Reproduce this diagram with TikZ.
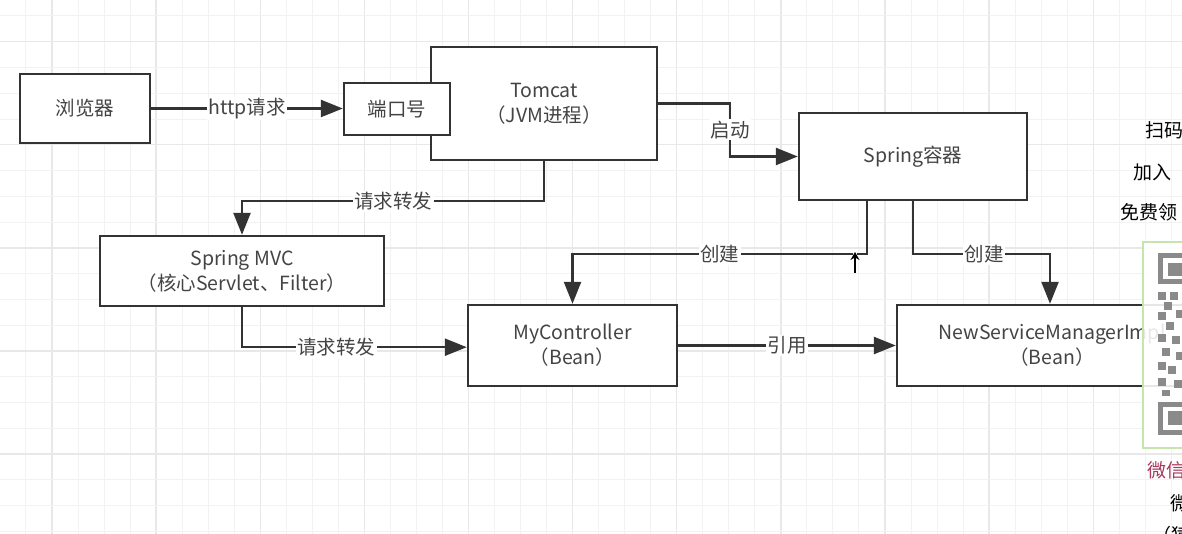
\documentclass[tikz,border=0pt]{standalone}
\usepackage{fontspec}
\setmainfont{Noto Sans CJK SC}
\usetikzlibrary{arrows.meta,calc}
\definecolor{ink}{HTML}{333333}
\definecolor{txt}{HTML}{444444}
\definecolor{gridminor}{HTML}{F2F2F2}
\definecolor{gridmajor}{HTML}{E8E8E8}
\definecolor{qrgreen}{HTML}{C4E6AE}
\definecolor{qrgray}{HTML}{8A8A8A}
\definecolor{wxred}{HTML}{A8385E}
\tikzset{
  box/.style={draw=ink, line width=2.4pt, fill=white, text=txt, align=center,
    inner sep=2pt, font=\fontsize{19.5}{25}\selectfont},
  conn/.style={draw=ink, line width=2.4pt, -{Triangle[length=22pt,width=17pt]}},
  lbl/.style={fill=white, text=txt, inner sep=1.5pt, font=\fontsize{19.5}{22}\selectfont},
  side/.style={anchor=west, inner sep=0pt, font=\fontsize{19}{22}\selectfont},
}
\begin{document}
\begin{tikzpicture}[x=1pt,y=-1pt]
\useasboundingbox (0,0) rectangle (1182,534);
\begin{scope}
\clip (0,0) rectangle (1182,534);
\fill[white] (0,0) rectangle (1182,534);
% grid
\foreach \k in {-2,...,43}{
  \pgfmathsetmacro\xx{52+26.03*\k}
  \pgfmathtruncatemacro\mm{mod(\k+8,4)}
  \ifnum\mm=0
    \draw[gridmajor, line width=1.4pt] (\xx,0) -- (\xx,534);
  \else
    \draw[gridminor, line width=1pt] (\xx,0) -- (\xx,534);
  \fi
}
\foreach \k in {-1,...,19}{
  \pgfmathsetmacro\yy{41.7+25.77*\k}
  \pgfmathtruncatemacro\mm{mod(\k+8,4)}
  \ifnum\mm=0
    \draw[gridmajor, line width=1.4pt] (0,\yy) -- (1182,\yy);
  \else
    \draw[gridminor, line width=1pt] (0,\yy) -- (1182,\yy);
  \fi
}

% boxes
\node[box, minimum width=130pt, minimum height=69pt] (browser) at (85,108.5) {浏览器};
\node[box, minimum width=226pt, minimum height=113pt] (tomcat) at (544,103.5) {Tomcat\\（JVM进程）};
\node[box, minimum width=106pt, minimum height=52pt] (port) at (397,109) {端口号};
\node[box, minimum width=228pt, minimum height=87pt] (spring) at (913,156.5) {Spring容器};
\node[box, minimum width=284pt, minimum height=70pt] (mvc) at (242,271) {Spring MVC\\（核心Servlet、Filter）};
\node[box, minimum width=209pt, minimum height=81pt] (ctrl) at (572.5,345.5) {MyController\\（Bean）};
\node[box, minimum width=310pt, minimum height=81pt] (svc) at (1052,345.5) {NewServiceManagerImpl\\（Bean）};

% connectors
\draw[conn] (browser.east) -- node[lbl, pos=0.5]{http请求} (browser.east -| port.west);
\coordinate (t1) at ($(tomcat.east)+(72,0)$);
\draw[conn] (tomcat.east) -- (t1) -- node[lbl]{启动} (t1 |- spring.west) -- (spring.west);
\coordinate (r1) at ($(tomcat.south)+(0,40)$);
\draw[conn] (tomcat.south) -- (r1) -- node[lbl, pos=0.5]{请求转发} (r1 -| mvc.north) -- (mvc.north);
\coordinate (r2) at ($(mvc.south)+(0,40)$);
\draw[conn] (mvc.south) -- (r2) -- node[lbl, pos=0.42]{请求转发} (r2 -| ctrl.west);
\coordinate (c1) at ($(spring.south)+(-46,53)$);
\draw[conn] ($(spring.south)+(-46,0)$) -- (c1) -- node[lbl, pos=0.5]{创建} (c1 -| ctrl.north) -- (ctrl.north);
\coordinate (c2) at ($(spring.south)+(0,53)$);
\coordinate (c3) at ($(svc.north)+(-2,0)$);
\draw[conn] (spring.south) -- (c2) -- node[lbl, pos=0.52]{创建} (c2 -| c3) -- (c3);
\draw[conn] (ctrl.east) -- node[lbl, pos=0.5]{引用} (svc.west);

% mouse cursor
\coordinate (cur1) at (855,273);
\coordinate (cur2) at (855,252);
\draw[white, line width=4.5pt] (cur1) -- (cur2);
\draw[black, line width=2.2pt, -{Stealth[length=8pt,width=9pt]}] (cur1) -- (cur2);

% right-hand overlay (cut off at the edge)
\fill[white, opacity=0.88] (1143,242) rectangle (1195,448);
\draw[qrgreen, line width=2pt] (1143,242) rectangle (1195,448);
\draw[qrgray, line width=5pt] (1160,256) rectangle (1190,282);
\fill[qrgray] (1168,263) rectangle (1190,276);
\draw[qrgray, line width=5pt] (1160,404) rectangle (1190,432);
\fill[qrgray] (1168,411) rectangle (1190,425);
\foreach \a/\b/\c/\d in {1158/292/1166/300, 1170/292/1178/300, 1164/302/1172/310,
  1158/312/1166/320, 1176/310/1184/318, 1166/322/1174/330, 1158/334/1166/342,
  1172/336/1180/344, 1162/348/1170/356, 1176/352/1184/360, 1158/362/1166/370,
  1168/366/1176/374, 1158/378/1166/386, 1174/380/1182/388, 1162/390/1170/396}
  \fill[qrgray] (\a,\b) rectangle (\c,\d);
\node[side] (s1) at (1145,130) {扫码};
\node[side] (s2) at (1133,172) {加入};
\node[side] (s3) at (1120,212) {免费领};
\node[side, text=wxred] (s4) at (1147,470) {微信};
\node[side] (s5) at (1170,503) {微};
\node[side] (s6) at (1152,535) {（猿};
\end{scope}
\end{tikzpicture}
\end{document}
